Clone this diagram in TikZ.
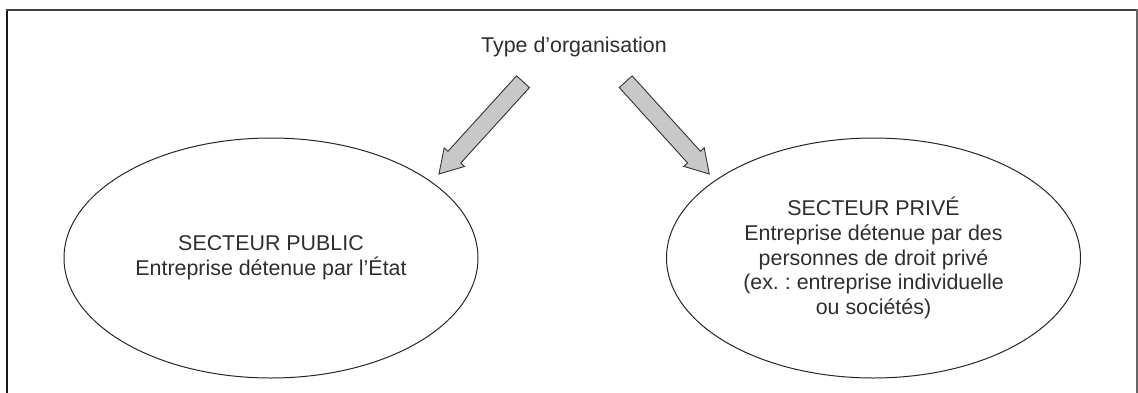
\documentclass[tikz,border=0pt]{standalone}
\usepackage{fontspec}
\setmainfont{Liberation Sans}
\usetikzlibrary{shapes.geometric,calc}
\frenchspacing
\definecolor{txt}{HTML}{2E2E2E}
\definecolor{afill}{HTML}{C8C8C8}
\newcommand{\blkarrow}[2]{%
  \coordinate (#1-b) at ($(#2)!22.8pt!(#1)$);
  \draw[blockarrow]
    ($(#1)!8.7pt!90:(#2)$) -- ($(#1-b)!8.7pt!90:(#2)$) -- ($(#1-b)!13.8pt!90:(#2)$) --
    (#2) --
    ($(#1-b)!13.8pt!-90:(#2)$) -- ($(#1-b)!8.7pt!-90:(#2)$) -- ($(#1)!8.7pt!-90:(#2)$) -- cycle;}
\begin{document}
\begin{tikzpicture}[x=1pt,y=-1pt,
  every node/.style={font=\fontsize{21.4}{24.6}\selectfont, text=txt},
  sector/.style={ellipse, draw=black!85, line width=1pt, minimum width=414pt,
    minimum height=240pt, inner sep=0pt, align=center},
  blockarrow/.style={draw=black!80, fill=afill, line width=0.9pt, line join=miter}]
\useasboundingbox (0,0) rectangle (1138,392);
% frame (open at the bottom)
\draw[line width=2pt, black!90] (6.5,400) -- (6.5,10);
\draw[line width=2pt, black!75] (5.5,10) -- (1137.5,10);
\draw[line width=1.3pt, black!60] (1137,9) -- (1137,400);
% title
\node[anchor=base] (title) at (574,52) {Type d’organisation};
% sectors
\node[sector] (public) at (271,258) {SECTEUR PUBLIC\\Entreprise détenue par l’État};
\node[sector] (prive) at (873.5,258) {SECTEUR PRIVÉ\\Entreprise détenue par des\\personnes de droit privé\\(ex. : entreprise individuelle\\ou sociétés)};
% block arrows
\coordinate (la) at (523,81.7);
\coordinate (lb) at (439,174);
\coordinate (ra) at (625.7,81.7);
\coordinate (rb) at (709.3,174);
\blkarrow{la}{lb}
\blkarrow{ra}{rb}
\end{tikzpicture}
\end{document}
